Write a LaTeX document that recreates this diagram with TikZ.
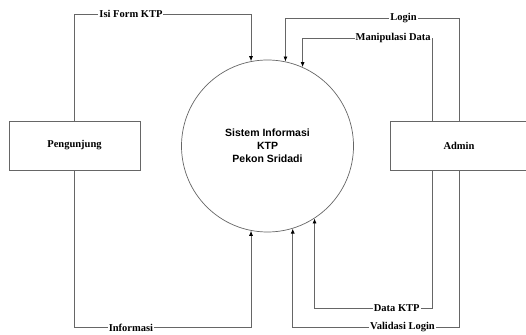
\documentclass[tikz,border=0pt]{standalone}
\usepackage{fontspec}
\setmainfont{Liberation Serif}
\setsansfont{Liberation Sans}
\usetikzlibrary{arrows.meta,positioning}

\begin{document}
\begin{tikzpicture}[
      x=1pt, y=1pt,
      entity/.style={draw=black!60, line width=.8pt, minimum height=49pt, font=\bfseries\fontsize{10.5}{12}\selectfont},
      process/.style={draw=black!60, line width=.7pt, circle, minimum size=172pt, align=center, font=\sffamily\bfseries\fontsize{10.5}{13}\selectfont},
      flow/.style={draw=black!60, line width=.8pt, -{Latex[length=5pt,width=4pt,black]}},
      lbl/.style={fill=white, inner sep=1pt, font=\bfseries\fontsize{10.5}{12}\selectfont}
    ]
      \useasboundingbox (0,0) rectangle (526,334);

      \node[process] (sys) at (267.5,188) {Sistem Informasi\\KTP\\Pekon Sridadi};
      \node[entity, minimum width=131pt] (peng) at (74.5,188.5) {Pengunjung};
      \node[entity, minimum width=138pt] (admin) at (459,188.5) {Admin};

      % Pengunjung
      \draw[flow] (peng.north) |- node[lbl, pos=.66] {Isi Form KTP} (sys.101 |- 0,320) -- (sys.101);
      \draw[flow] (peng.south) |- node[lbl, pos=.66] {Informasi} (sys.259 |- 0,6.5) -- (sys.259);

      % Admin
      \draw[flow] (admin.north) |- node[lbl, pos=.66] {Login} (sys.78 |- 0,316) -- (sys.78);
      \draw[flow] ([xshift=-27pt]admin.north) |- node[lbl, pos=.65] {Manipulasi Data} (sys.66 |- 0,296) -- (sys.66);
      \draw[flow] ([xshift=-27pt]admin.south) |- node[lbl, pos=.65] {Data KTP} (sys.303.5 |- 0,26) -- (sys.303.5);
      \draw[flow] (admin.south) |- node[lbl, pos=.67] {Validasi Login} (sys.287 |- 0,6.5) -- (sys.287);
    \end{tikzpicture}
\end{document}
